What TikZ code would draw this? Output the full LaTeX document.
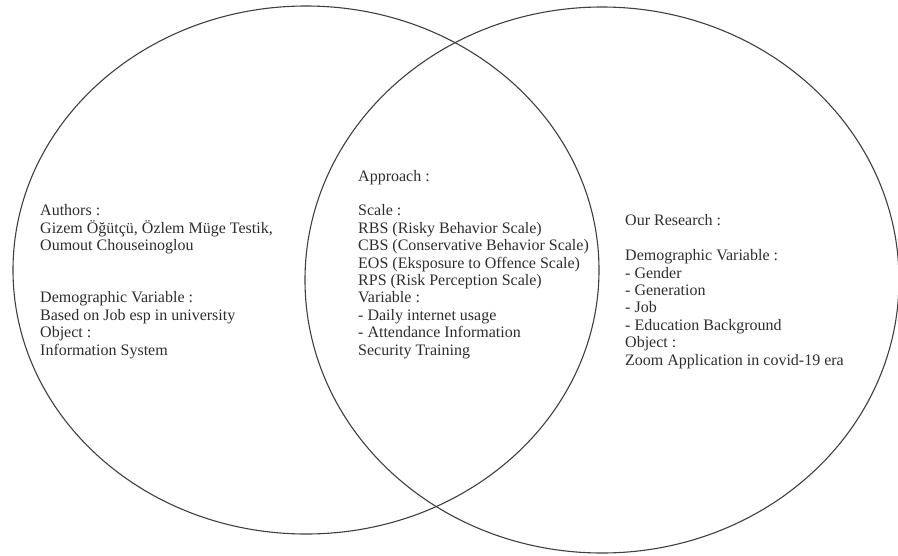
\documentclass[tikz,border=0pt]{standalone}
\usepackage{fontspec}
\setmainfont{Liberation Serif}
\usetikzlibrary{shapes.geometric}
\tikzset{
  venn/.style={draw=black!75, line width=1.1pt, ellipse, inner sep=0pt},
  txt/.style={anchor=base west, align=left, inner sep=0pt, text=black!82,
    font=\fontsize{16}{17.4}\selectfont}
}
\begin{document}
\begin{tikzpicture}[x=1pt,y=-1pt]
\useasboundingbox[fill=white] (0,0) rectangle (898,555);
\node[venn, minimum width=586pt, minimum height=528pt] (L) at (306,270) {};
\node[venn, minimum width=594pt, minimum height=546pt] (R) at (602,280) {};
\node[txt] (left) at (40,355) {Authors :\\
Gizem Öğütçü, Özlem Müge Testik,\\
Oumout Chouseinoglou\\[34.8pt]
Demographic Variable :\\
Based on Job esp in university\\
Object :\\
Information System};
\node[txt] (mid) at (358,355) {Approach :\\[17.4pt]
Scale :\\
RBS (Risky Behavior Scale)\\
CBS (Conservative Behavior Scale)\\
EOS (Eksposure to Offence Scale)\\
RPS (Risk Perception Scale)\\
Variable :\\
- Daily internet usage\\
- Attendance Information\\
Security Training};
\node[txt] (right) at (625,365) {Our Research :\\[17.4pt]
Demographic Variable :\\
- Gender\\
- Generation\\
- Job\\
- Education Background\\
Object :\\
Zoom Application in covid-19 era};
\end{tikzpicture}
\end{document}
